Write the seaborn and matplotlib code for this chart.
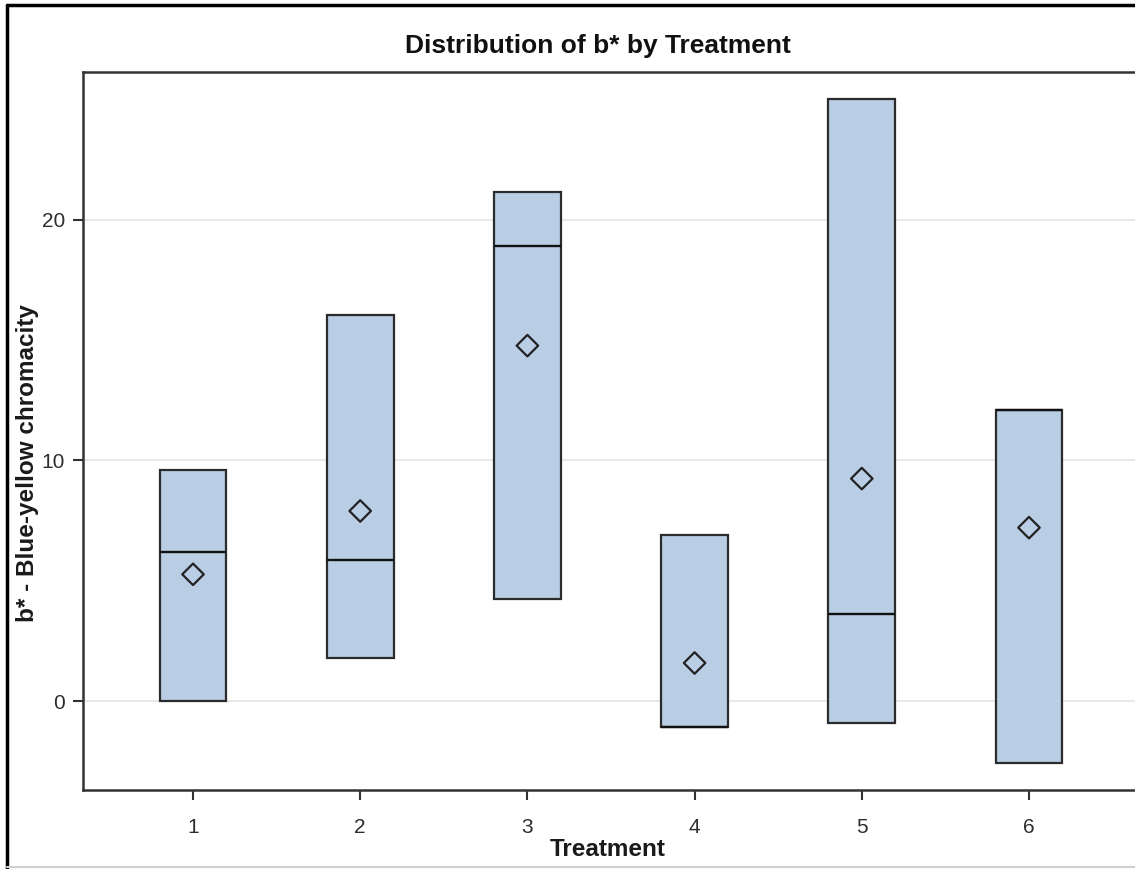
import numpy as np
import pandas as pd
import matplotlib
matplotlib.use("Agg")
import matplotlib.pyplot as plt
import seaborn as sns

treatments = ["1", "2", "3", "4", "5", "6"]
obs_low = [0.0, 1.79, 4.24, -1.08, -0.91, -2.58]
obs_mid = [6.2, 5.86, 18.92, -1.08, 3.62, 12.1]
obs_high = [9.6, 16.05, 21.16, 6.9, 25.03, 12.1]
y_ticks = [0, 10, 20]

title = "Distribution of b* by Treatment"
xlabel = "Treatment"
ylabel = "b* - Blue-yellow chromacity"

# long table of observations
rows = []
for t, lo, md, hi in zip(treatments, obs_low, obs_mid, obs_high):
    for v in (lo, md, hi):
        rows.append({"Treatment": t, "b": v})
obs = pd.DataFrame(rows)
means = obs.groupby("Treatment", sort=False)["b"].mean().reset_index()

# SAS quartile definition on 3 points gives Q1=min, Q3=max; emulate with
# duplicated extremes so numpy's percentiles land on the same values
box_rows = []
for t, lo, md, hi in zip(treatments, obs_low, obs_mid, obs_high):
    for v in (lo, lo, md, hi, hi):
        box_rows.append({"Treatment": t, "b": v})
box_df = pd.DataFrame(box_rows)

sns.set_theme(style="white")
plt.rcParams["font.family"] = ["Liberation Sans", "DejaVu Sans"]

fig = plt.figure(figsize=(11.35, 8.69), dpi=100)
ax = fig.add_axes([83 / 1135, 79 / 869, (1139 - 83) / 1135, (797 - 79) / 869])

edge = "#2b2b2b"
sns.boxplot(
    data=box_df, x="Treatment", y="b", order=treatments, ax=ax,
    width=0.4, whis=0, showfliers=False, showcaps=False,
    color="#B9CDE5", saturation=1,
    boxprops=dict(facecolor="#B9CDE5", edgecolor=edge, linewidth=1.6),
    medianprops=dict(color="#111111", linewidth=1.7),
    whiskerprops=dict(color=edge, linewidth=1.6),
    zorder=3,
)
sns.scatterplot(
    data=means, x="Treatment", y="b", ax=ax, marker="D", s=120,
    facecolor="none", edgecolor="#222222", linewidth=1.6, zorder=5,
    legend=False,
)

ax.set_xlim(-0.658, 5.658)
ax.set_ylim(-3.70, 26.15)
ax.set_yticks(y_ticks)
ax.yaxis.grid(True, color="#E4E4E4", linewidth=1.2, zorder=0)
ax.xaxis.grid(False)
ax.set_axisbelow(True)

for s in ax.spines.values():
    s.set_color("#333333")
    s.set_linewidth(1.8)
    s.set_visible(True)

ax.tick_params(axis="both", which="major", direction="out", length=7,
               width=1.5, color="#333333", labelcolor="#2e2e2e",
               labelsize=15, left=True, bottom=True)
ax.tick_params(axis="y", pad=6)
ax.tick_params(axis="x", pad=13)

ax.set_xlabel(xlabel, fontsize=17.5, fontweight="bold", color="#1a1a1a", va="center")
ax.set_ylabel(ylabel, fontsize=17.5, fontweight="bold", color="#1a1a1a", va="center")
ax.xaxis.set_label_coords((607.5 - 83) / 1056, (790 - 849) / 718)
ax.yaxis.set_label_coords((28 - 83) / 1056, (790 - 463) / 718)

fig.text(598 / 1135, 1 - 46 / 869, title, ha="center", va="center",
         fontsize=19, fontweight="bold", color="#111111")

# outer frame (left and top black, bottom light grey)
fig.add_artist(plt.Line2D([7 / 1135, 7 / 1135], [0, 1 - 5 / 869],
                          transform=fig.transFigure, color="black", linewidth=2.5))
fig.add_artist(plt.Line2D([7 / 1135, 1], [1 - 5 / 869, 1 - 5 / 869],
                          transform=fig.transFigure, color="black", linewidth=2.5))
fig.add_artist(plt.Line2D([7 / 1135, 1], [2 / 869, 2 / 869],
                          transform=fig.transFigure, color="#D0D0D0", linewidth=1.5))

fig.savefig("out.png", dpi=100)
